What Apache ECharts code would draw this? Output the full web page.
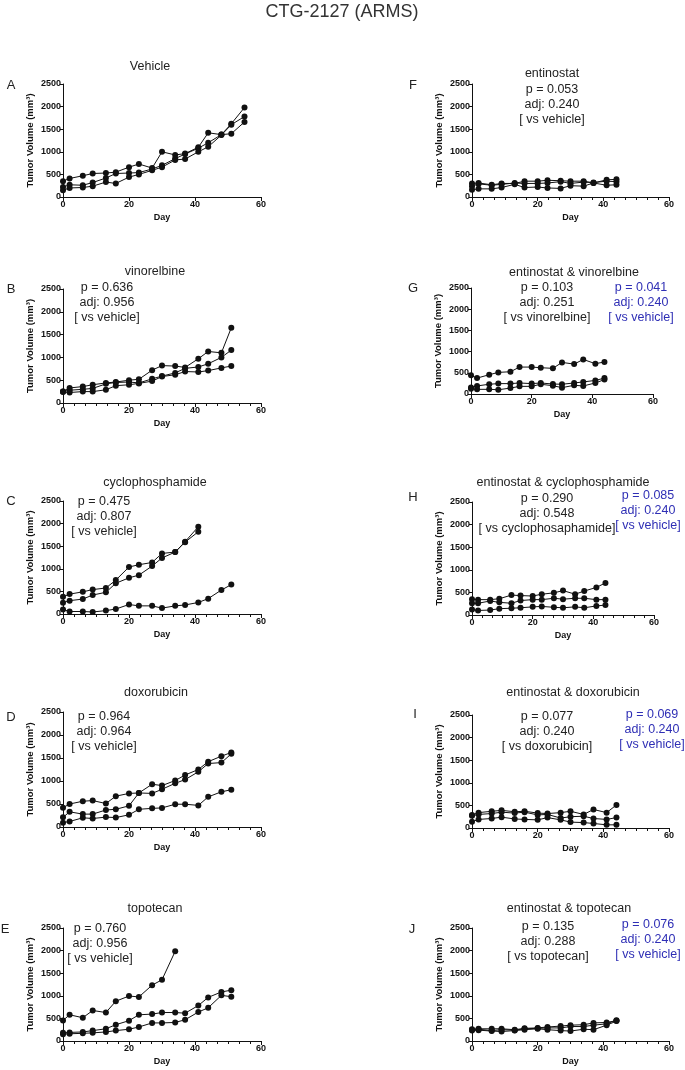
<!DOCTYPE html>
<html><head><meta charset="utf-8">
<script src="https://cdn.jsdelivr.net/npm/echarts@6/dist/echarts.min.js"></script>
<style>html,body{margin:0;padding:0;background:#fff}#c{width:685px;height:1070px}</style>
</head><body><div id="c"></div>
<script>
// ---- data ----
const daysLong = [0,2,6,9,13,16,20,23,27,30,34,37,41,44,48,51,55];
const days51 = [0,2,6,9,13,16,20,23,27,30,34,37,41,44,48,51];
const days41 = [0,2,6,9,13,16,20,23,27,30,34,37,41];
const days34 = [0,2,6,9,13,16,20,23,27,30,34];
const days44 = [0,2,6,9,13,16,20,23,27,30,34,37,41,44];

const vehicle1 = [350,410,470,520,530,550,660,730,640,1000,930,960,1100,1420,1380,1400,1660];
const vehicle2 = [220,270,260,320,420,520,530,540,620,700,850,950,1080,1200,1380,1620,1980];
const vehicle3 = [150,200,210,240,330,300,440,500,590,660,820,840,1000,1110,1370,1600,1780];

const vino1 = [250,330,360,400,440,460,500,520,720,820,810,780,970,1130,1100,1650];
const vino2 = [250,280,300,320,420,450,460,440,530,590,660,760,790,860,1000,1160];
const vino3 = [240,230,250,250,290,380,400,430,480,580,620,690,680,710,770,810];

const cyclo1 = [380,440,490,540,575,750,1040,1090,1140,1340,1370,1600,1930];
const cyclo2 = [250,295,330,420,480,680,800,860,1060,1240,1370,1590,1820];
const cyclo3 = [100,55,55,45,75,110,210,180,180,130,180,200,255,340,530,650];

const doxo1 = [420,500,560,575,510,670,730,740,730,820,950,1030,1200,1380,1400,1590];
const doxo2 = [210,330,280,280,370,385,460,740,930,900,1010,1130,1250,1420,1540,1620];
const doxo3 = [95,120,200,185,215,205,265,385,405,415,495,495,470,655,765,810];

const topo1 = [455,580,515,675,630,880,995,975,1235,1355,1985];
const topo2 = [180,190,200,230,270,360,450,580,595,630,630,615,785,965,1085,1125];
const topo3 = [150,160,170,180,200,230,260,310,400,400,410,470,640,735,1010,980];

const ent1 = [300,310,270,300,300,350,350,370,360,350,350,310,380,390];
const ent2 = [240,290,260,280,310,300,300,310,340,300,330,320,350,340];
const ent3 = [160,180,180,210,280,210,220,200,190,250,240,310,260,270];

const entVino1 = [440,375,455,510,525,635,635,620,605,745,705,815,715,755];
const entVino2 = [155,190,230,245,245,260,245,260,235,230,260,285,320,375];
const entVino3 = [125,110,110,100,140,180,180,230,195,150,205,190,260,340];

const entCyclo1 = [350,340,340,360,440,430,420,460,490,540,460,530,610,710];
const entCyclo2 = [260,260,310,280,260,320,340,340,370,350,370,370,340,340];
const entCyclo3 = [120,100,110,140,150,160,180,190,170,160,180,160,200,220];

const entDoxo1 = [290,340,370,390,360,370,330,320,340,370,300,410,340,510];
const entDoxo2 = [270,300,320,350,330,350,290,300,220,250,260,210,190,230];
const entDoxo3 = [140,190,210,240,200,190,180,230,180,130,120,100,70,70];

const entTopo1 = [260,270,270,270,250,280,290,310,330,350,360,400,410,450];
const entTopo2 = [250,260,230,250,240,270,280,290,290,320,320,350,380,460];
const entTopo3 = [230,240,220,210,230,250,270,250,230,220,260,250,350,440];

const xTicks = [0,20,40,60];
const yTicks = [0,500,1000,1500,2000,2500];

// ---- layout ----
const panels = [
  {id:'A', grid:{left:63,top:84,width:198,height:113}, minor:false,
   series:[[daysLong,vehicle1],[daysLong,vehicle2],[daysLong,vehicle3]]},
  {id:'B', grid:{left:63,top:289,width:198,height:114}, minor:true,
   series:[[days51,vino1],[days51,vino2],[days51,vino3]]},
  {id:'C', grid:{left:63,top:501,width:198,height:113}, minor:true,
   series:[[days41,cyclo1],[days41,cyclo2],[days51,cyclo3]]},
  {id:'D', grid:{left:63,top:712,width:198,height:115}, minor:true,
   series:[[days51,doxo1],[days51,doxo2],[days51,doxo3]]},
  {id:'E', grid:{left:63,top:928,width:198,height:113}, minor:true,
   series:[[days34,topo1],[days51,topo2],[days51,topo3]]},
  {id:'F', grid:{left:472,top:84,width:197,height:113}, minor:true,
   series:[[days44,ent1],[days44,ent2],[days44,ent3]]},
  {id:'G', grid:{left:471,top:288,width:182,height:106}, minor:false,
   series:[[days44,entVino1],[days44,entVino2],[days44,entVino3]]},
  {id:'H', grid:{left:472,top:502,width:182,height:113}, minor:true,
   series:[[days44,entCyclo1],[days44,entCyclo2],[days44,entCyclo3]]},
  {id:'I', grid:{left:472,top:715,width:197,height:113}, minor:true,
   series:[[days44,entDoxo1],[days44,entDoxo2],[days44,entDoxo3]]},
  {id:'J', grid:{left:472,top:928,width:197,height:113}, minor:true,
   series:[[days44,entTopo1],[days44,entTopo2],[days44,entTopo3]]}
];

const FONT = '"Liberation Sans", Arial, sans-serif';
const grids=[], xAxes=[], yAxes=[], series=[];
panels.forEach((p,i)=>{
  grids.push(p.grid);
  xAxes.push({
    type:'value', gridIndex:i, min:xTicks[0], max:xTicks[xTicks.length-1], interval:20,
    name:'Day', nameLocation:'middle', nameGap:16,
    nameTextStyle:{fontFamily:FONT, fontWeight:'bold', fontSize:9, color:'#111'},
    axisLine:{show:true, onZero:false, lineStyle:{color:'#111', width:1}},
    axisTick:{show:true, length:4, lineStyle:{color:'#111'}},
    minorTick:{show:p.minor, splitNumber:6, length:3, lineStyle:{color:'#111', width:1}},
    axisLabel:{fontFamily:FONT, fontWeight:'bold', fontSize:9, color:'#111', margin:3,
      formatter:v=>String(v)},
    splitLine:{show:false}
  });
  yAxes.push({
    type:'value', gridIndex:i, min:yTicks[0], max:yTicks[yTicks.length-1], interval:500,
    name:'Tumor Volume (mm³)', nameLocation:'middle', nameGap:28,
    nameTextStyle:{fontFamily:FONT, fontWeight:'bold', fontSize:9.5, color:'#111'},
    axisLine:{show:true, onZero:false, lineStyle:{color:'#111', width:1}},
    axisTick:{show:true, length:3, lineStyle:{color:'#111'}},
    axisLabel:{fontFamily:FONT, fontWeight:'bold', fontSize:9, color:'#111', margin:2,
      formatter:v=>String(v)},
    splitLine:{show:false}
  });
  p.series.forEach(([d,v])=>{
    series.push({
      type:'line', xAxisIndex:i, yAxisIndex:i,
      data:d.map((x,k)=>[x,v[k]]),
      symbol:'circle', symbolSize:6, showSymbol:true,
      lineStyle:{color:'#111', width:1},
      itemStyle:{color:'#111'},
      animation:false, silent:true
    });
  });
});

function txt(x,y,t,opts){
  return Object.assign({type:'text', x:x, y:y,
    style:Object.assign({text:t, fontFamily:FONT, fontSize:12.5, fill:'#222',
      textAlign:'center', textVerticalAlign:'middle'}, opts||{})});
}
const BLUE = '#2f2fb5';
const g = [];
g.push(txt(342,12,'CTG-2127 (ARMS)',{fontSize:18, fill:'#333'}));
// panel letters
[['A',11,85],['B',11,289],['C',11,501],['D',11,717],['E',5,929],
 ['F',413,85],['G',413,288],['H',413,497],['I',415,714],['J',412,929]]
 .forEach(([l,x,y])=>g.push(txt(x,y,l,{fontSize:13})));
// titles
[['Vehicle',150,67],['vinorelbine',155,272],['cyclophosphamide',155,483],['doxorubicin',156,693],['topotecan',155,909],
 ['entinostat',552,74],['entinostat & vinorelbine',574,273],['entinostat & cyclophosphamide',563,483],
 ['entinostat & doxorubicin',573,693],['entinostat & topotecan',569,909]]
 .forEach(([t,x,y])=>g.push(txt(x,y,t)));
function block(lines,x,y0,color){
  lines.forEach((t,k)=>g.push(txt(x,y0+k*15,t,color?{fill:color}:{})));
}
block(['p = 0.636','adj: 0.956','[ vs vehicle]'],107,288);
block(['p = 0.475','adj: 0.807','[ vs vehicle]'],104,502);
block(['p = 0.964','adj: 0.964','[ vs vehicle]'],104,717);
block(['p = 0.760','adj: 0.956','[ vs vehicle]'],100,929);
block(['p = 0.053','adj: 0.240','[ vs vehicle]'],552,90);
block(['p = 0.103','adj: 0.251','[ vs vinorelbine]'],547,288);
block(['p = 0.041','adj: 0.240','[ vs vehicle]'],641,288,BLUE);
block(['p = 0.290','adj: 0.548','[ vs cyclophosaphamide]'],547,499);
block(['p = 0.085','adj: 0.240','[ vs vehicle]'],648,496,BLUE);
block(['p = 0.077','adj: 0.240','[ vs doxorubicin]'],547,717);
block(['p = 0.069','adj: 0.240','[ vs vehicle]'],652,715,BLUE);
block(['p = 0.135','adj: 0.288','[ vs topotecan]'],548,927);
block(['p = 0.076','adj: 0.240','[ vs vehicle]'],648,925,BLUE);

const chart = echarts.init(document.getElementById('c'), null, {renderer:'canvas'});
chart.setOption({
  backgroundColor:'#fff', animation:false,
  grid:grids, xAxis:xAxes, yAxis:yAxes, series:series, graphic:g
});
</script>
</body></html>
